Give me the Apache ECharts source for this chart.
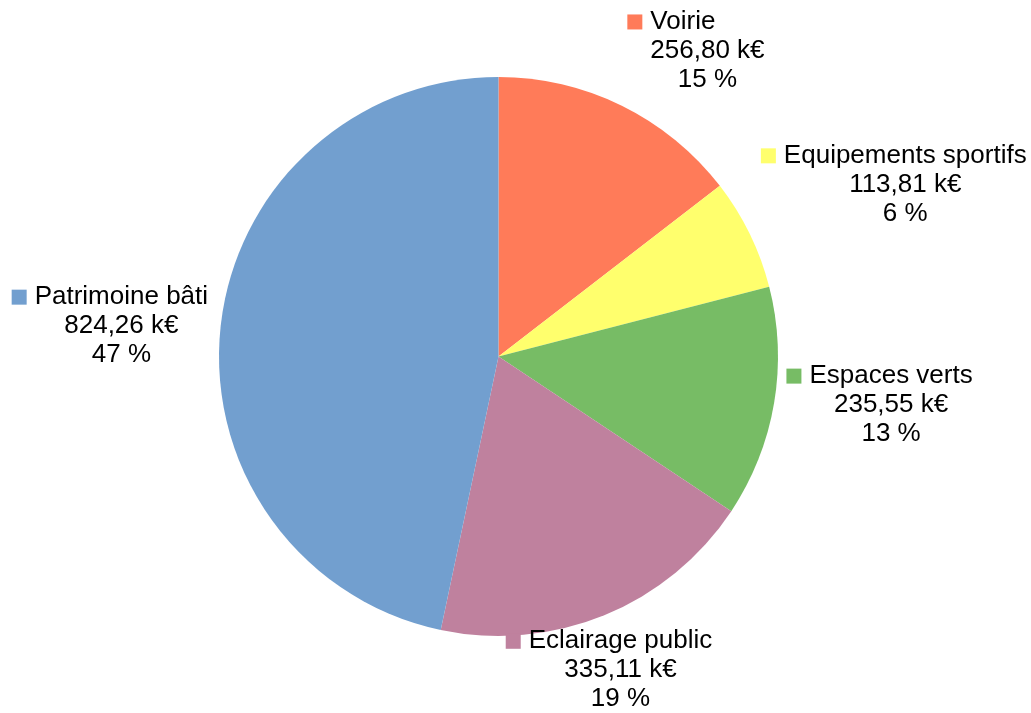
<!DOCTYPE html>
<html><head><meta charset="utf-8">
<script src="https://cdn.jsdelivr.net/npm/echarts@6/dist/echarts.min.js"></script>
<style>html,body{margin:0;padding:0;background:#fff;}#c{width:1031px;height:713px;}</style>
</head><body><div id="c"></div>
<script>
const categories = ['Voirie', 'Equipements sportifs', 'Espaces verts', 'Eclairage public', 'Patrimoine bâti'];
const values = [256.80, 113.81, 235.55, 335.11, 824.26];
const colors = ['#ff7b59', '#ffff6d', '#77bc65', '#bf819e', '#729fcf'];

const CX = 498.5, CY = 356.5, RAD = 279.5, LABEL_R = 292;
const FONT = 'Liberation Sans', FS = 26, LH = 29;
const total = values.reduce((a, b) => a + b, 0);
function midAngle(i) {
  let cum = 0;
  for (let k = 0; k < i; k++) cum += values[k];
  return (cum + values[i] / 2) / total * 2 * Math.PI;
}
function fmt(v) { return v.toFixed(2).replace('.', ',') + ' k€'; }
function makeRich(color) {
  const base = { fontFamily: FONT, fontSize: FS, lineHeight: LH, color: '#000' };
  return {
    sq: Object.assign({}, base, { align: 'left', width: 15, height: 15, backgroundColor: color }),
    gap: Object.assign({}, base, { align: 'left', width: 8 }),
    name: Object.assign({}, base, { align: 'left' }),
    pad: Object.assign({}, base, { align: 'left', width: 23 }),
    val: Object.assign({}, base, { align: 'center' })
  };
}

const chart = echarts.init(document.getElementById('c'), null, { renderer: 'canvas' });
chart.setOption({
  backgroundColor: '#ffffff',
  animation: false,
  series: [{
    type: 'pie',
    center: [CX, CY],
    radius: RAD,
    startAngle: 90,
    clockwise: true,
    avoidLabelOverlap: false,
    silent: true,
    itemStyle: { borderWidth: 0 },
    emphasis: { disabled: true },
    label: {
      show: true,
      position: 'outside',
      color: '#000',
      fontFamily: FONT,
      fontSize: FS,
      lineHeight: LH,
      formatter: function (p) {
        return '{sq|}{gap|}{name|' + p.name + '}\n{pad|}{val|' + fmt(p.value) + '}\n{pad|}{val|' + Math.round(p.percent) + ' %}';
      }
    },
    labelLine: { show: false },
    labelLayout: function (p) {
      const i = p.dataIndex;
      const a = midAngle(i);
      const px = CX + LABEL_R * Math.sin(a), py = CY - LABEL_R * Math.cos(a);
      let deg = (90 - a * 180 / Math.PI) % 360;
      if (deg < 0) deg += 360;
      const w = p.labelRect.width, h = p.labelRect.height;
      let H, V;
      if (deg <= 22.5 || deg > 337.5) { H = 'r'; V = 'm'; }
      else if (deg < 67.5) { H = 'r'; V = 't'; }
      else if (deg < 112.5) { H = 'c'; V = 't'; }
      else if (deg < 157.5) { H = 'l'; V = 't'; }
      else if (deg < 202.5) { H = 'l'; V = 'm'; }
      else if (deg < 247.5) { H = 'l'; V = 'b'; }
      else if (deg < 292.5) { H = 'c'; V = 'b'; }
      else { H = 'r'; V = 'b'; }
      const left = H === 'r' ? px : (H === 'l' ? px - w : px - w / 2);
      const top = V === 't' ? py - h : (V === 'b' ? py : py - h / 2);
      return { x: left, y: top, align: 'left', verticalAlign: 'top' };
    },
    data: categories.map((n, i) => ({
      name: n,
      value: values[i],
      itemStyle: { color: colors[i] },
      label: { rich: makeRich(colors[i]) }
    }))
  }]
});
</script>
</body></html>
